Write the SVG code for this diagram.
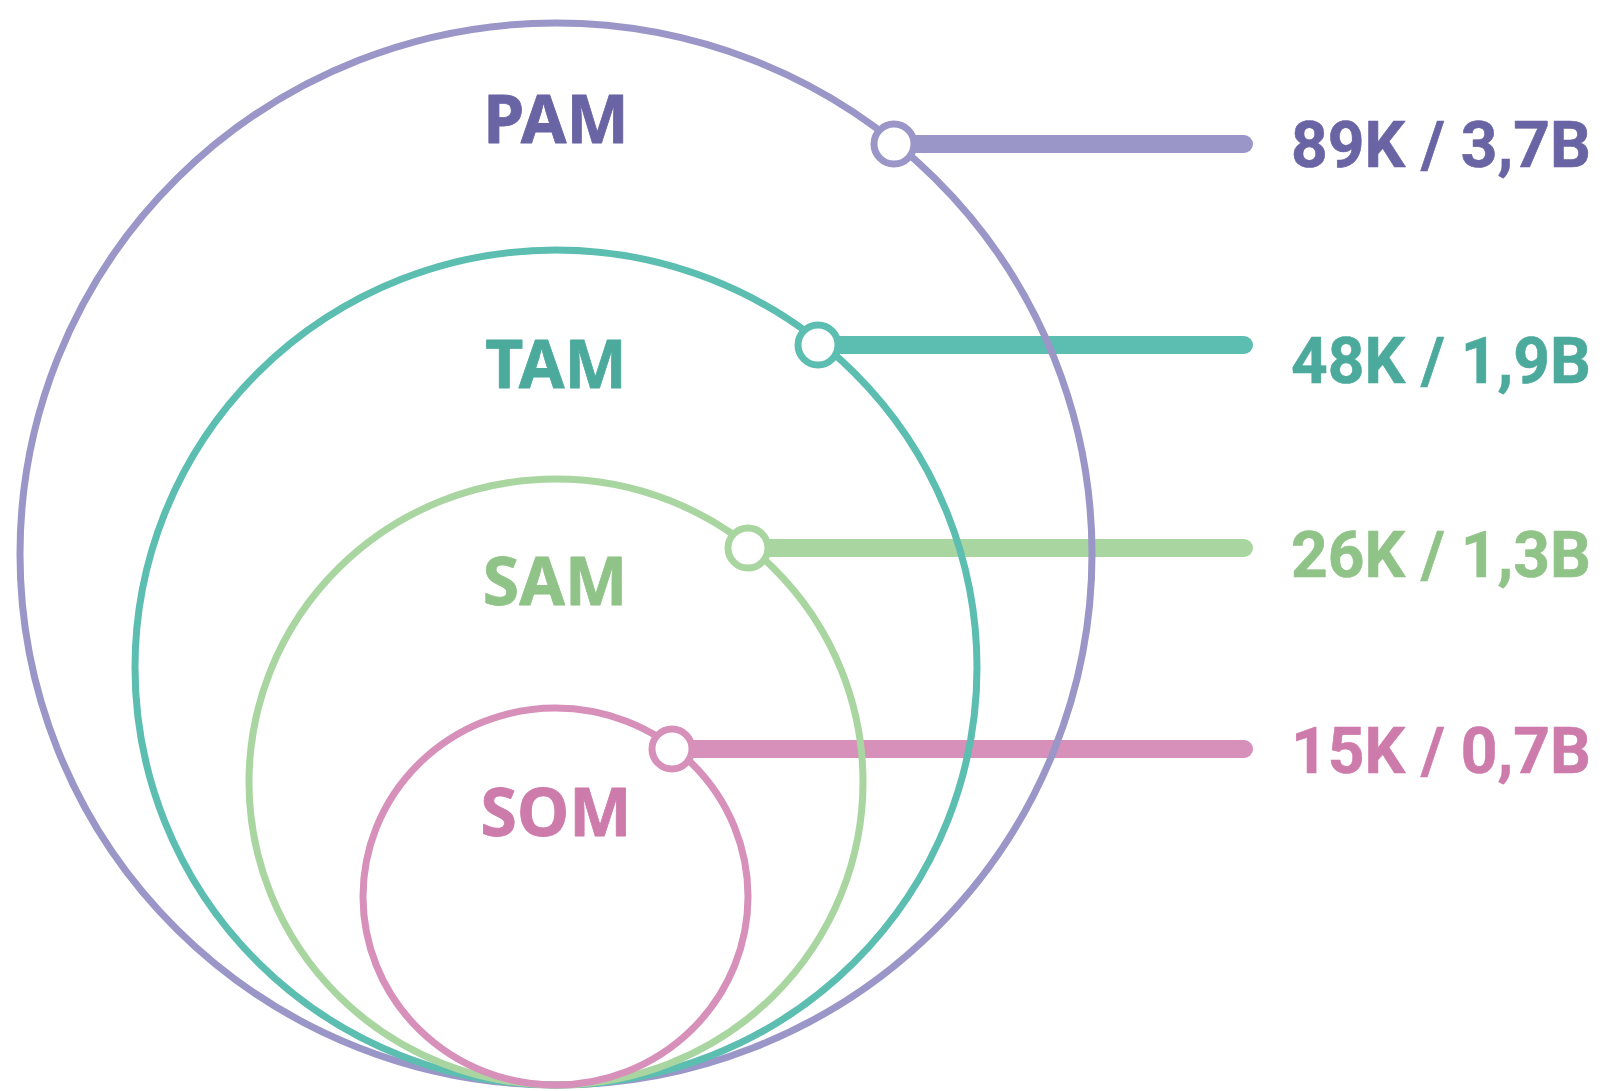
<svg xmlns="http://www.w3.org/2000/svg" width="1607" height="1091" viewBox="0 0 1607 1091">
<style>
.ring{fill:none;stroke-width:7}
.bar{stroke-width:18;stroke-linecap:round;fill:none}
.dot{fill:#fff;stroke-width:7}
.name{font-family:"Noto Sans","Open Sans","Liberation Sans",sans-serif;font-weight:700;font-size:66px;text-anchor:middle;stroke-width:0.8;stroke-linejoin:round}
.val{font-family:Roboto,"Liberation Sans",sans-serif;font-weight:700;font-size:64px;stroke-width:0.6;stroke-linejoin:round}
.pam{stroke:#9a96c8}.tam{stroke:#5cbdb1}.sam{stroke:#a9d5a0}.som{stroke:#d690b9}
.tp{fill:#6964a4;stroke:#6964a4}.tt{fill:#4caa9d;stroke:#4caa9d}.ts{fill:#90c387;stroke:#90c387}.to{fill:#cd7bab;stroke:#cd7bab}
</style>
<rect width="1607" height="1091" fill="#fff"/>
<g id="connectors">
<line class="bar pam" x1="894" y1="144" x2="1244" y2="144"/>
<line class="bar tam" x1="818" y1="345" x2="1244" y2="345"/>
<line class="bar sam" x1="748" y1="548" x2="1244" y2="548"/>
<line class="bar som" x1="672" y1="749" x2="1244" y2="749"/>
</g>
<g id="PAM">
<ellipse class="ring pam" cx="556" cy="554" rx="536" ry="531"/>
<text class="name tp" x="556" y="143">PAM</text>
</g>
<g id="TAM">
<ellipse class="ring tam" cx="556" cy="667.5" rx="421" ry="417.5"/>
<text class="name tt" x="556" y="388">TAM</text>
</g>
<g id="SAM">
<ellipse class="ring sam" cx="556" cy="782" rx="307" ry="303"/>
<text class="name ts" x="555" y="605">SAM</text>
</g>
<g id="SOM">
<ellipse class="ring som" cx="555.5" cy="896.5" rx="192.5" ry="188.5"/>
<text class="name to" x="556" y="836">SOM</text>
</g>
<g id="dots">
<circle class="dot pam" cx="894" cy="144" r="20"/>
<circle class="dot tam" cx="818" cy="345" r="20"/>
<circle class="dot sam" cx="748" cy="548" r="20"/>
<circle class="dot som" cx="672" cy="749" r="20"/>
</g>
<g id="labels">
<text class="val tp" x="1291" y="167">89K / 3,7B</text>
<text class="val tt" x="1291" y="383">48K / 1,9B</text>
<text class="val ts" x="1291" y="577">26K / 1,3B</text>
<text class="val to" x="1291" y="773">15K / 0,7B</text>
</g>
</svg>
